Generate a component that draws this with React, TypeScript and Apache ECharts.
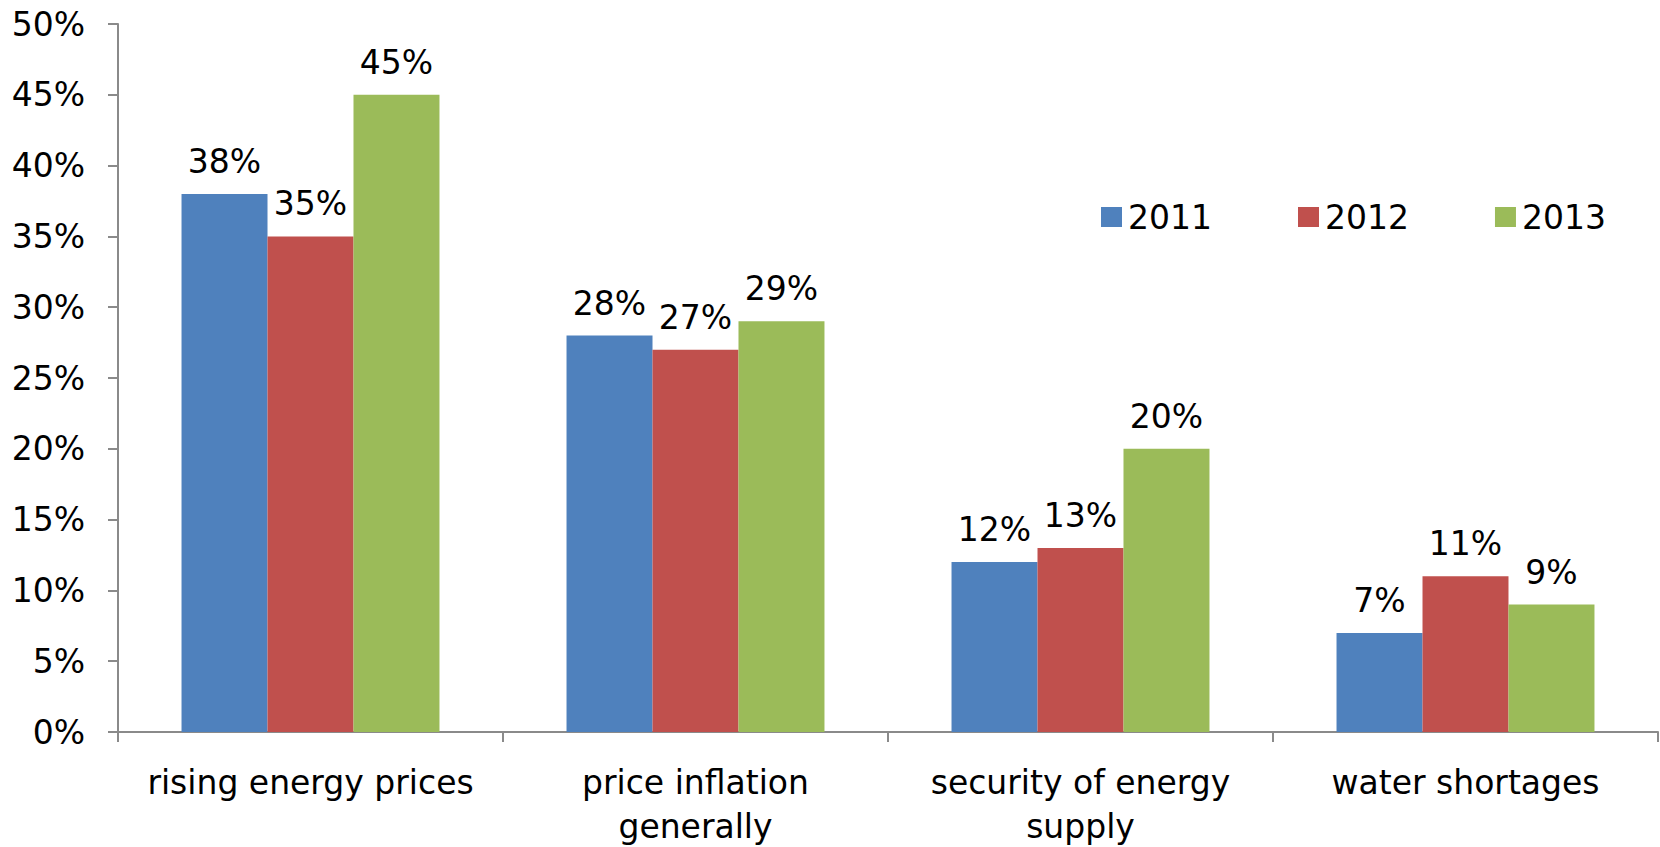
import React, { useEffect, useRef } from "react";
import * as echarts from "echarts";

const categories = [
  "rising energy prices",
  "price inflation\ngenerally",
  "security of energy\nsupply",
  "water shortages",
];
const seriesNames = ["2011", "2012", "2013"];
const values2011 = [38, 28, 12, 7];
const values2012 = [35, 27, 13, 11];
const values2013 = [45, 29, 20, 9];
const yTicks = { min: 0, max: 50, interval: 5 };
const colors = ["#4F81BD", "#C0504D", "#9BBB59"];

const FONT = "DejaVu Sans";
const FS = 33;

export default function App() {
  const ref = useRef<HTMLDivElement>(null);
  useEffect(() => {
    if (!ref.current) return;
    const chart = echarts.init(ref.current, undefined, { renderer: "svg" });
    const allValues = [values2011, values2012, values2013];
    chart.setOption({
      animation: false,
      textStyle: { fontFamily: FONT, color: "#000" },
      grid: {
        left: 118,
        right: 2,
        top: 24,
        bottom: 115,
        containLabel: false,
        outerBoundsMode: "none",
      },
      legend: {
        data: seriesNames,
        left: 1096,
        top: 195,
        itemWidth: 21,
        itemHeight: 20,
        itemGap: 86,
        icon: "rect",
        textStyle: { fontFamily: FONT, fontSize: FS, color: "#000", lineHeight: 34, padding: [0, 0, 0, 1] },
      },
      xAxis: {
        type: "category",
        data: categories,
        axisLine: { lineStyle: { color: "#8A8A8A", width: 2 } },
        axisTick: { show: true, length: 10, lineStyle: { color: "#8A8A8A", width: 2 } },
        axisLabel: {
          fontFamily: FONT,
          fontSize: FS,
          color: "#000",
          margin: 28,
          lineHeight: 44,
          interval: 0,
        },
      },
      yAxis: {
        type: "value",
        min: yTicks.min,
        max: yTicks.max,
        interval: yTicks.interval,
        splitLine: { show: false },
        axisLine: { show: true, lineStyle: { color: "#8A8A8A", width: 2 } },
        axisTick: { show: true, length: 10, lineStyle: { color: "#8A8A8A", width: 2 } },
        axisLabel: {
          fontFamily: FONT,
          fontSize: FS,
          color: "#000",
          margin: 33,
          formatter: "{value}%",
        },
      },
      series: seriesNames.map((name, i) => ({
        name,
        type: "bar",
        data: allValues[i],
        barGap: "0%",
        barCategoryGap: "33%",
        itemStyle: { color: colors[i] },
        label: {
          show: true,
          position: "top",
          distance: 16,
          formatter: "{c}%",
          fontFamily: FONT,
          fontSize: FS,
          color: "#000",
        },
      })),
    });
    return () => chart.dispose();
  }, []);
  return (
    <div
      ref={ref}
      style={{ position: "absolute", left: 0, top: 0, width: 1660, height: 847 }}
    />
  );
}
